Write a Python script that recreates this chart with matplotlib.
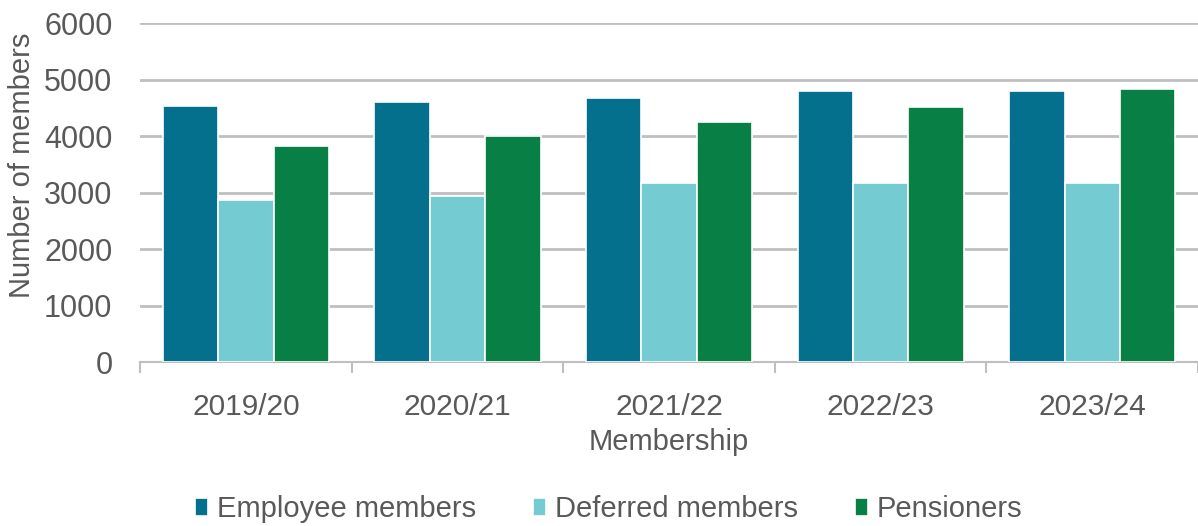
import matplotlib.pyplot as plt
import numpy as np

plt.rcParams['font.family'] = ['Liberation Sans', 'DejaVu Sans']

years = ['2019/20', '2020/21', '2021/22', '2022/23', '2023/24']
employee = [4540, 4610, 4670, 4800, 4800]
deferred = [2880, 2940, 3170, 3170, 3170]
pensioners = [3830, 4010, 4250, 4510, 4830]

series = ['Employee members', 'Deferred members', 'Pensioners']
colors = ['#04708E', '#74CBD2', '#087F45']
grey = '#595959'

fig = plt.figure(figsize=(11.98, 5.26), dpi=100)
ax = fig.add_axes([0.117, 0.311, 0.883, 0.645])

x = np.arange(len(years))
w = 0.262
for i, (vals, name, c) in enumerate(zip([employee, deferred, pensioners], series, colors)):
    ax.bar(x + (i - 1) * w, vals, width=w, color=c, edgecolor='white', linewidth=1.2,
           label=name, zorder=3)

ax.set_xlim(-0.5, len(years) - 0.5)
ax.set_ylim(0, 6000)
ax.set_yticks(range(0, 6001, 1000))
ax.grid(axis='y', color='#BFBFBF', linewidth=2, zorder=0)
ax.set_axisbelow(True)

for s in ['top', 'right', 'left']:
    ax.spines[s].set_visible(False)
ax.spines['bottom'].set_color('#BFBFBF')
ax.spines['bottom'].set_linewidth(1.5)

ax.set_xticks(x)
ax.set_xticklabels(years)
ax.set_xticks(np.arange(-0.5, len(years), 1), minor=True)
ax.tick_params(axis='x', which='major', length=0, labelsize=21.5, colors=grey, pad=22)
ax.tick_params(axis='x', which='minor', length=8, width=1.5, color='#BFBFBF')
ax.tick_params(axis='y', length=0, labelsize=22, colors=grey, pad=20)

ax.set_xlabel('Membership', fontsize=21, color=grey, labelpad=5)
ax.set_ylabel('Number of members', fontsize=21, color=grey)
ax.yaxis.set_label_coords(-0.098, 0.58)

fig.legend(loc='lower center', bbox_to_anchor=(0.508, -0.045), ncol=3, frameon=False,
           fontsize=21, labelcolor=grey, handlelength=0.45, handleheight=0.55,
           handletextpad=0.3, columnspacing=1.95)

fig.savefig('out.png', dpi=100)
